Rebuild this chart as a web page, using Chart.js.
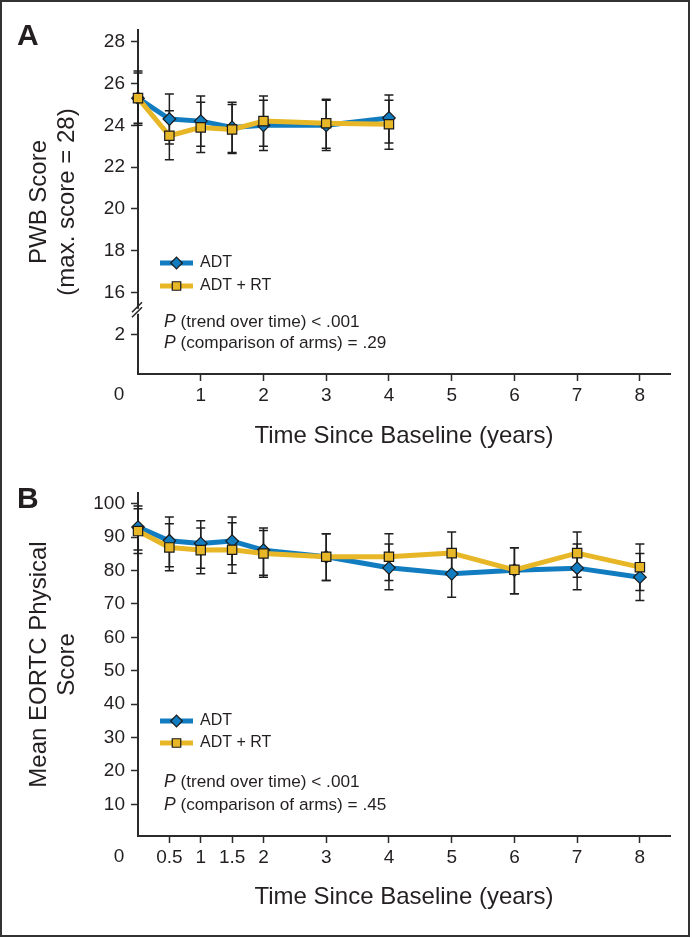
<!DOCTYPE html>
<html><head><meta charset="utf-8">
<script src="https://cdn.jsdelivr.net/npm/chart.js@4/dist/chart.umd.min.js"></script>
<style>
html,body{margin:0;padding:0;background:#fff;}
#wrap{position:relative;width:692px;height:938px;overflow:hidden;}
#cA{position:absolute;left:0;top:0;}
#cB{position:absolute;left:0;top:465px;}
#frame{position:absolute;left:0;top:0;width:686px;height:933px;border:2px solid #333;pointer-events:none;}
</style></head><body>
<div id="wrap">
<canvas id="cA" width="692" height="465"></canvas>
<canvas id="cB" width="692" height="473"></canvas>
<div id="frame"></div>
</div>
<script>
// ---------- DATA ----------
const seriesNames = ['ADT', 'ADT + RT'];

// Panel A: PWB score
const pwbTimes      = [0, 0.5, 1, 1.5, 2, 3, 4];
const pwbADT        = [25.3, 24.3, 24.2, 23.9, 24.0, 24.0, 24.35];
const pwbADTLow     = [24.0, 23.1, 23.0, 22.7, 22.8, 22.8, 23.15];
const pwbADTHigh    = [26.6, 25.5, 25.4, 25.1, 25.2, 25.2, 25.45];
const pwbADTRT      = [25.3, 23.5, 23.9, 23.8, 24.2, 24.1, 24.05];
const pwbADTRTLow   = [24.1, 22.35, 22.7, 22.65, 23.0, 22.9, 22.85];
const pwbADTRTHigh  = [26.5, 24.7, 25.1, 25.0, 25.4, 25.25, 25.2];
const pwbYTickLabels = [2, 16, 18, 20, 22, 24, 26, 28];
const pwbXTickLabels = [1, 2, 3, 4, 5, 6, 7, 8];
const pwbPText = [' (trend over time) < .001', ' (comparison of arms) = .29'];

// Panel B: EORTC physical score
const eortcTimes     = [0, 0.5, 1, 1.5, 2, 3, 4, 5, 6, 7, 8];
const eortcADT       = [93.0, 88.9, 88.1, 88.8, 86.1, 84.1, 80.8, 79.0, 80.1, 80.7, 78.0];
const eortcADTLow    = [86.1, 81.1, 80.7, 81.7, 78.6, 77.0, 74.2, 72.0, 73.0, 74.2, 71.0];
const eortcADTHigh   = [99.3, 96.0, 94.9, 96.0, 92.7, 91.0, 87.9, 86.0, 86.8, 87.9, 85.1];
const eortcADTRT     = [91.8, 86.9, 86.1, 86.2, 85.1, 84.1, 84.1, 85.2, 80.2, 85.2, 81.0];
const eortcADTRTLow  = [85.1, 79.9, 79.0, 79.2, 78.0, 77.0, 77.0, 78.8, 73.0, 78.0, 74.0];
const eortcADTRTHigh = [98.5, 94.0, 92.7, 94.3, 92.0, 91.0, 91.0, 91.5, 86.8, 91.5, 87.9];
const eortcYTickLabels = [10, 20, 30, 40, 50, 60, 70, 80, 90, 100];
const eortcXTickLabels = [0.5, 1, 1.5, 2, 3, 4, 5, 6, 7, 8];
const eortcPText = [' (trend over time) < .001', ' (comparison of arms) = .45'];

// ---------- STYLE ----------
const FONT = "'Liberation Sans', Arial, Helvetica, sans-serif";
const TXT = '#231f20';
const AX = '#2b2b2b';
const BLUE = '#127cc0';
const YEL = '#e7b727';
Chart.defaults.font.family = FONT;
Chart.defaults.color = TXT;

// axis break in panel A: values below the break are drawn 12 units higher
const breakShift = 12;
function pwbAxisValue(v) { return v < 15 ? v + breakShift : v; }

function seriesDatasets(times, a, b) {
  return [
    { label: seriesNames[0], data: times.map((t, i) => ({x: t, y: a[i]})),
      borderColor: BLUE, backgroundColor: BLUE, borderWidth: 5, borderJoinStyle: 'round',
      pointStyle: 'rectRot', pointRadius: 6.3, pointBackgroundColor: BLUE,
      pointBorderColor: '#1a1a1a', pointBorderWidth: 1.2, clip: false, order: 2, tension: 0 },
    { label: seriesNames[1], data: times.map((t, i) => ({x: t, y: b[i]})),
      borderColor: YEL, backgroundColor: YEL, borderWidth: 5, borderJoinStyle: 'round',
      pointStyle: 'rect', pointRadius: 6.6, pointBackgroundColor: YEL,
      pointBorderColor: '#1a1a1a', pointBorderWidth: 1.2, clip: false, order: 1, tension: 0 }
  ];
}

function makeOverlay(cfg) {
  return {
    id: 'overlay' + cfg.letter,
    beforeDatasetsDraw(chart) {
      const {ctx, scales: {x, y}} = chart;
      ctx.save();
      ctx.strokeStyle = '#1f1f1f';
      ctx.lineWidth = 1.5;
      cfg.bars.forEach(b => {
        b.t.forEach((t, i) => {
          const px = x.getPixelForValue(t);
          const y1 = y.getPixelForValue(b.lo[i]);
          const y2 = y.getPixelForValue(b.hi[i]);
          ctx.beginPath();
          ctx.moveTo(px, y1); ctx.lineTo(px, y2);
          ctx.moveTo(px - 4.5, y1); ctx.lineTo(px + 4.5, y1);
          ctx.moveTo(px - 4.5, y2); ctx.lineTo(px + 4.5, y2);
          ctx.stroke();
        });
      });
      ctx.restore();
    },
    afterDraw(chart) {
      const {ctx, chartArea, scales: {x, y}} = chart;
      ctx.save();
      // panel letter
      ctx.fillStyle = TXT;
      ctx.font = 'bold 30px ' + FONT;
      ctx.textAlign = 'left';
      ctx.textBaseline = 'alphabetic';
      ctx.fillText(cfg.letter, 17, cfg.letterY);
      // origin label "0"
      ctx.font = '19px ' + FONT;
      ctx.textAlign = 'center';
      ctx.textBaseline = 'middle';
      ctx.fillText('0', chartArea.left - 19, chartArea.bottom + 21);
      // axis break
      if (cfg.breakAt) {
        const by = y.getPixelForValue(cfg.breakAt);
        const bx = chartArea.left;
        ctx.fillStyle = '#fff';
        ctx.fillRect(bx - 3, by - 2.5, 6, 5);
        ctx.strokeStyle = AX;
        ctx.lineWidth = 1.6;
        ctx.beginPath();
        ctx.moveTo(bx - 6, by + 1); ctx.lineTo(bx + 4, by - 9);
        ctx.moveTo(bx - 6, by + 6); ctx.lineTo(bx + 4, by - 4);
        ctx.stroke();
      }
      // legend
      const ds = chart.data.datasets;
      ds.forEach((d, i) => {
        const ly = cfg.legendY[i];
        ctx.strokeStyle = d.borderColor;
        ctx.lineWidth = 5;
        ctx.lineCap = 'butt';
        ctx.beginPath();
        ctx.moveTo(160, ly); ctx.lineTo(193, ly);
        ctx.stroke();
        ctx.fillStyle = d.pointBackgroundColor;
        ctx.strokeStyle = d.pointBorderColor;
        ctx.lineWidth = 1.2;
        Chart.helpers.drawPoint(ctx, {pointStyle: d.pointStyle, radius: d.pointStyle === 'rect' ? 6 : 5.8, borderWidth: 1.2, rotation: 0}, 176.5, ly);
        ctx.fillStyle = TXT;
        ctx.font = '16px ' + FONT;
        ctx.textAlign = 'left';
        ctx.textBaseline = 'middle';
        ctx.fillText(d.label, 200, ly);
      });
      // P-value text
      cfg.pText.forEach((t, i) => {
        const py = cfg.pY[i];
        ctx.fillStyle = TXT;
        ctx.textAlign = 'left';
        ctx.textBaseline = 'middle';
        ctx.font = 'italic 17.5px ' + FONT;
        ctx.fillText('P', 164, py);
        const w = ctx.measureText('P').width;
        ctx.font = '17.2px ' + FONT;
        ctx.fillText(t, 164 + w, py);
      });
      ctx.restore();
    }
  };
}

function xScale(max, tickVals, titlePadBottom, height) {
  return {
    type: 'linear', min: 0, max: max,
    afterBuildTicks: s => { s.ticks = tickVals.map(v => ({value: v})); },
    afterFit: s => { s.height = height; },
    ticks: { font: {size: 19}, color: TXT, padding: 3, maxRotation: 0, autoSkip: false,
             callback: v => String(v) },
    grid: { display: true, drawOnChartArea: false, drawTicks: true, tickLength: 7,
            tickWidth: 1.5, tickColor: AX },
    border: { display: true, color: AX, width: 2 },
    title: { display: true, text: 'Time Since Baseline (years)', color: TXT,
             font: {size: 24, lineHeight: 1.2}, padding: {top: 0, bottom: titlePadBottom} }
  };
}

function yScale(min, max, tickVals, labelFn, titleLines) {
  return {
    type: 'linear', min: min, max: max,
    afterBuildTicks: s => { s.ticks = tickVals.map(v => ({value: v})); },
    afterFit: s => { s.width = 138; },
    ticks: { font: {size: 19}, color: TXT, padding: 6, autoSkip: false, callback: labelFn },
    grid: { display: true, drawOnChartArea: false, drawTicks: true, tickLength: 7,
            tickWidth: 1.5, tickColor: AX },
    border: { display: true, color: AX, width: 2 },
    title: { display: true, text: titleLines, color: TXT,
             font: {size: 24, lineHeight: 1.15}, padding: {top: 26, bottom: 0} }
  };
}

// ---------- PANEL A ----------
new Chart(document.getElementById('cA'), {
  type: 'line',
  data: { datasets: seriesDatasets(pwbTimes, pwbADT, pwbADTRT) },
  options: {
    responsive: false, animation: false, events: [],
    layout: { padding: {top: 30, right: 22, bottom: 0, left: 0} },
    plugins: { legend: {display: false}, tooltip: {enabled: false} },
    scales: {
      x: xScale(8.48, pwbXTickLabels, 14.6, 91),
      y: yScale(12.1, 28.56, pwbYTickLabels.map(pwbAxisValue),
                v => { const l = pwbYTickLabels.find(t => pwbAxisValue(t) === v); return l === undefined ? '' : String(l); },
                ['PWB Score', '(max. score = 28)'])
    }
  },
  plugins: [makeOverlay({
    letter: 'A', letterY: 45, breakAt: 15.1,
    legendY: [263, 286], pText: pwbPText, pY: [322.5, 343.5],
    bars: [{t: pwbTimes, lo: pwbADTLow, hi: pwbADTHigh}, {t: pwbTimes, lo: pwbADTRTLow, hi: pwbADTRTHigh}]
  })]
});

// ---------- PANEL B ----------
new Chart(document.getElementById('cB'), {
  type: 'line',
  data: { datasets: seriesDatasets(eortcTimes, eortcADT, eortcADTRT) },
  options: {
    responsive: false, animation: false, events: [],
    layout: { padding: {top: 28, right: 22, bottom: 0, left: 0} },
    plugins: { legend: {display: false}, tooltip: {enabled: false} },
    scales: {
      x: xScale(8.48, eortcXTickLabels, 26.6, 102),
      y: yScale(0.5, 103.2, eortcYTickLabels, v => String(v), ['Mean EORTC Physical', 'Score'])
    }
  },
  plugins: [makeOverlay({
    letter: 'B', letterY: 43, breakAt: null,
    legendY: [256, 278], pText: eortcPText, pY: [317.5, 340],
    bars: [{t: eortcTimes, lo: eortcADTLow, hi: eortcADTHigh}, {t: eortcTimes, lo: eortcADTRTLow, hi: eortcADTRTHigh}]
  })]
});
</script>
</body></html>
